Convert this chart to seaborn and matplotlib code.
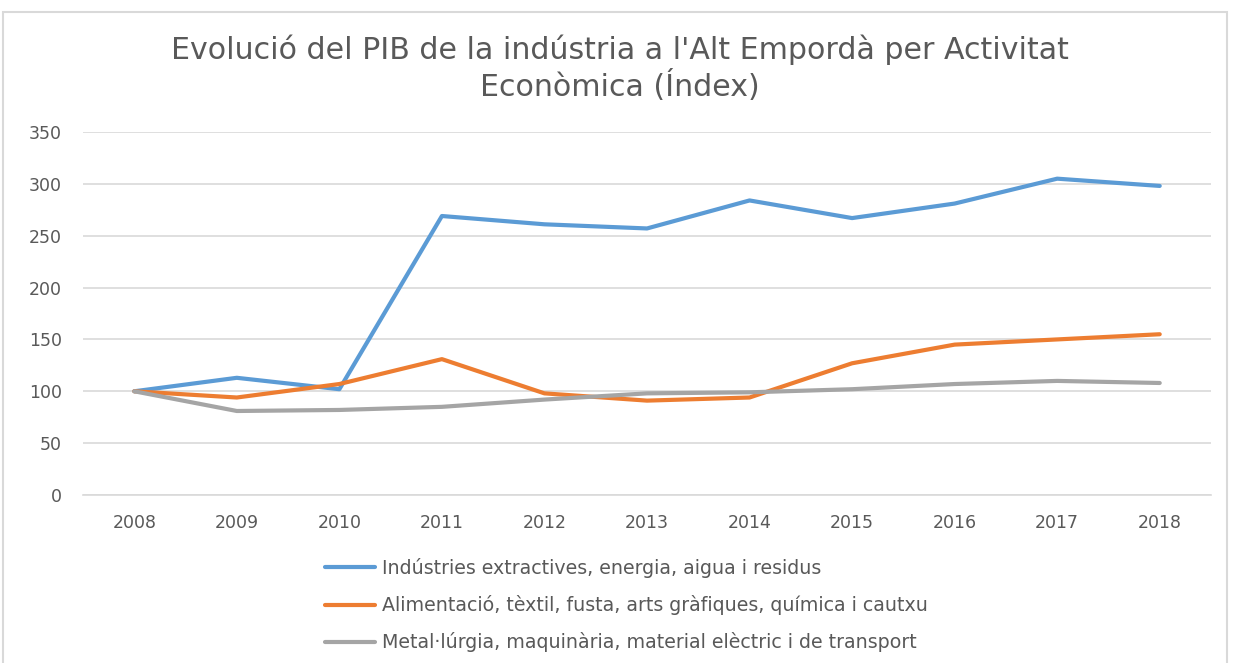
import pandas as pd
import matplotlib.pyplot as plt
import matplotlib.patches as mpatches
import seaborn as sns

years = [2008, 2009, 2010, 2011, 2012, 2013, 2014, 2015, 2016, 2017, 2018]
extractives = [100, 113, 102, 269, 261, 257, 284, 267, 281, 305, 298]
alimentacio = [100, 94, 107, 131, 98, 91, 94, 127, 145, 150, 155]
metallurgia = [100, 81, 82, 85, 92, 98, 99, 102, 107, 110, 108]

series_names = [
    'Indústries extractives, energia, aigua i residus',
    'Alimentació, tèxtil, fusta, arts gràfiques, química i cautxu',
    'Metal·lúrgia, maquinària, material elèctric i de transport',
]
colors = ['#5B9BD5', '#ED7D31', '#A5A5A5']

df = pd.concat([
    pd.DataFrame({'year': [str(y) for y in years], 'value': vals, 'serie': name})
    for name, vals in zip(series_names, [extractives, alimentacio, metallurgia])
])

sns.set_theme(style="white")
plt.rcParams['font.family'] = ['DejaVu Sans']
text_color = '#595959'

fig = plt.figure(figsize=(12.33, 6.63), dpi=100)
ax = fig.add_axes([83 / 1233, 1 - 495 / 663, (1211 - 83) / 1233, (495 - 132) / 663])

sns.lineplot(data=df, x='year', y='value', hue='serie', palette=colors,
             linewidth=3, ax=ax, sort=False)

ax.set_xlim(-0.5, len(years) - 0.5)
ax.set_ylim(0, 350)
ax.set_yticks(range(0, 351, 50))
ax.yaxis.grid(True, color='#d9d9d9', linewidth=1.2)
ax.set_axisbelow(True)
for side in ['top', 'right', 'left']:
    ax.spines[side].set_visible(False)
ax.spines['bottom'].set_color('#d9d9d9')
ax.spines['bottom'].set_linewidth(1.2)
ax.tick_params(axis='both', length=0, labelsize=12.5, colors=text_color, pad=14)
ax.tick_params(axis='y', pad=15)
ax.set_xlabel('')
ax.set_ylabel('')

fig.text(0.503, 0.897, "Evolució del PIB de la indústria a l'Alt Empordà per Activitat\nEconòmica (Índex)",
         ha='center', va='center', fontsize=21.6, color=text_color, linespacing=1.22)

handles, labels = ax.get_legend_handles_labels()
for h in handles:
    h.set_linewidth(3)
ax.legend(handles, labels, loc='upper left', bbox_to_anchor=(308 / 1233, 1 - 541 / 663),
          bbox_transform=fig.transFigure, frameon=False, fontsize=13.7,
          labelcolor=text_color, handlelength=2.6, handletextpad=0.4, labelspacing=0.9)

# outer chart border
fig.patches.append(mpatches.Rectangle((3 / 1233, -0.01), 1224 / 1233, 1 - 12 / 663 + 0.01,
                                      transform=fig.transFigure, fill=False,
                                      edgecolor='#d9d9d9', linewidth=1.5))

plt.savefig('out.png', dpi=100)
plt.close()
